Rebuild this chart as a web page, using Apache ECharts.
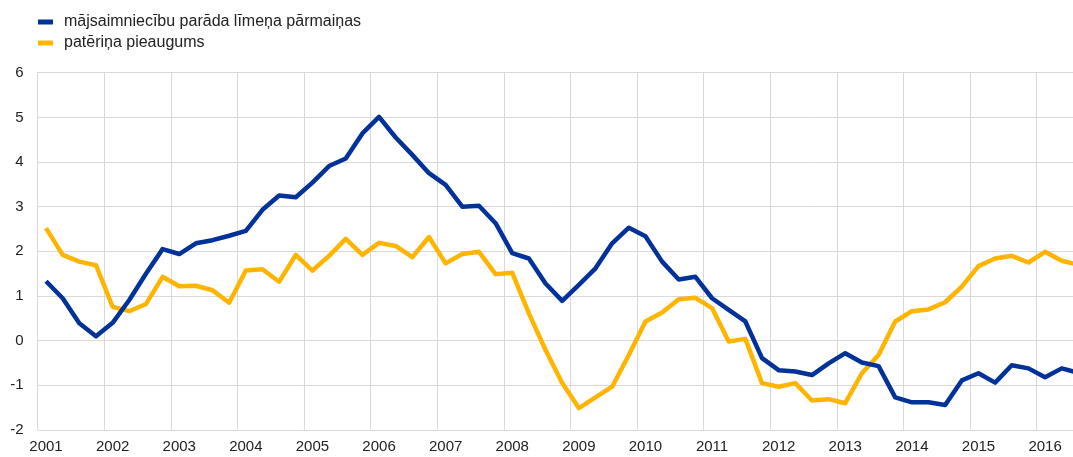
<!DOCTYPE html>
<html>
<head>
<meta charset="utf-8">
<script src="https://cdn.jsdelivr.net/npm/echarts@6/dist/echarts.min.js"></script>
<style>
html,body{margin:0;padding:0;background:#fff;}
#chart{width:1073px;height:457px;}
</style>
</head>
<body>
<div id="chart"></div>
<script>
const years = ['2001','2002','2003','2004','2005','2006','2007','2008','2009','2010','2011','2012','2013','2014','2015','2016'];
const lastYearQuarters = 3;
const seriesNames = ['mājsaimniecību parāda līmeņa pārmaiņas', 'patēriņa pieaugums'];
const debtChange = [
  1.33, 0.95, 0.39, 0.10,
  0.40, 0.91, 1.50, 2.05,
  1.94, 2.18, 2.25, 2.35,
  2.46, 2.93, 3.25, 3.21,
  3.54, 3.91, 4.08, 4.64,
  5.01, 4.55, 4.16, 3.75,
  3.49, 3.00, 3.02, 2.63,
  1.96, 1.84, 1.28, 0.89,
  1.25, 1.62, 2.18, 2.53,
  2.34, 1.77, 1.37, 1.43,
  0.95, 0.69, 0.43, -0.39,
  -0.66, -0.69, -0.77, -0.51,
  -0.28, -0.49, -0.57, -1.27,
  -1.38, -1.38, -1.44, -0.89,
  -0.73, -0.94, -0.55, -0.62,
  -0.82, -0.62, -0.72
];
const consumptionGrowth = [
  2.52, 1.92, 1.77, 1.69,
  0.76, 0.66, 0.82, 1.43,
  1.22, 1.23, 1.13, 0.85,
  1.57, 1.60, 1.32, 1.92,
  1.57, 1.90, 2.28, 1.92,
  2.19, 2.12, 1.87, 2.32,
  1.73, 1.94, 1.99, 1.49,
  1.52, 0.61, -0.21, -0.95,
  -1.51, -1.27, -1.03, -0.32,
  0.43, 0.63, 0.93, 0.96,
  0.73, -0.02, 0.04, -0.95,
  -1.03, -0.95, -1.34, -1.31,
  -1.40, -0.73, -0.32, 0.43,
  0.66, 0.70, 0.86, 1.21,
  1.67, 1.84, 1.90, 1.75,
  1.99, 1.79, 1.70
];
const yTicks = {min: -2, max: 6, interval: 1};

const categories = [];
years.forEach((y, yi) => {
  const nq = (yi === years.length - 1) ? lastYearQuarters : 4;
  for (let q = 1; q <= nq; q++) categories.push(y + 'Q' + q);
});

const chart = echarts.init(document.getElementById('chart'), null, {renderer: 'canvas'});
const font = 'Liberation Sans, Arial, sans-serif';
chart.setOption({
  animation: false,
  textStyle: {fontFamily: font},
  legend: {
    orient: 'vertical',
    left: 33,
    top: 9,
    itemWidth: 15,
    itemHeight: 5,
    itemGap: 5,
    icon: 'rect',
    textStyle: {fontSize: 16, color: '#222', fontFamily: font, lineHeight: 16, padding: [0,0,0,6]},
    data: seriesNames
  },
  grid: {left: 37.7, top: 72.7, width: 1049, height: 357.3, outerBoundsMode: 'none', containLabel: false},
  xAxis: {
    type: 'category',
    data: categories,
    boundaryGap: true,
    axisLine: {show: true, lineStyle: {color: '#d9d9d9', width: 1}},
    axisTick: {show: false},
    axisLabel: {
      interval: 3,
      color: '#222',
      fontSize: 15,
      fontFamily: font,
      margin: 9,
      formatter: v => v.slice(0, 4)
    },
    splitLine: {show: true, interval: 3, lineStyle: {color: '#d9d9d9', width: 1}}
  },
  yAxis: {
    type: 'value',
    min: yTicks.min,
    max: yTicks.max,
    interval: yTicks.interval,
    axisLine: {show: true, lineStyle: {color: '#d9d9d9', width: 1}},
    axisTick: {show: false},
    axisLabel: {color: '#222', fontSize: 15, fontFamily: font, margin: 14},
    splitLine: {show: true, lineStyle: {color: '#d9d9d9', width: 1}}
  },
  series: [
    {
      name: seriesNames[0],
      type: 'line',
      data: debtChange,
      symbol: 'none',
      color: '#003299',
      lineStyle: {width: 4.5, color: '#003299', join: 'round'},
      z: 3
    },
    {
      name: seriesNames[1],
      type: 'line',
      data: consumptionGrowth,
      symbol: 'none',
      color: '#FFB400',
      lineStyle: {width: 4.5, color: '#FFB400', join: 'round'},
      z: 2
    }
  ]
});
</script>
</body>
</html>
